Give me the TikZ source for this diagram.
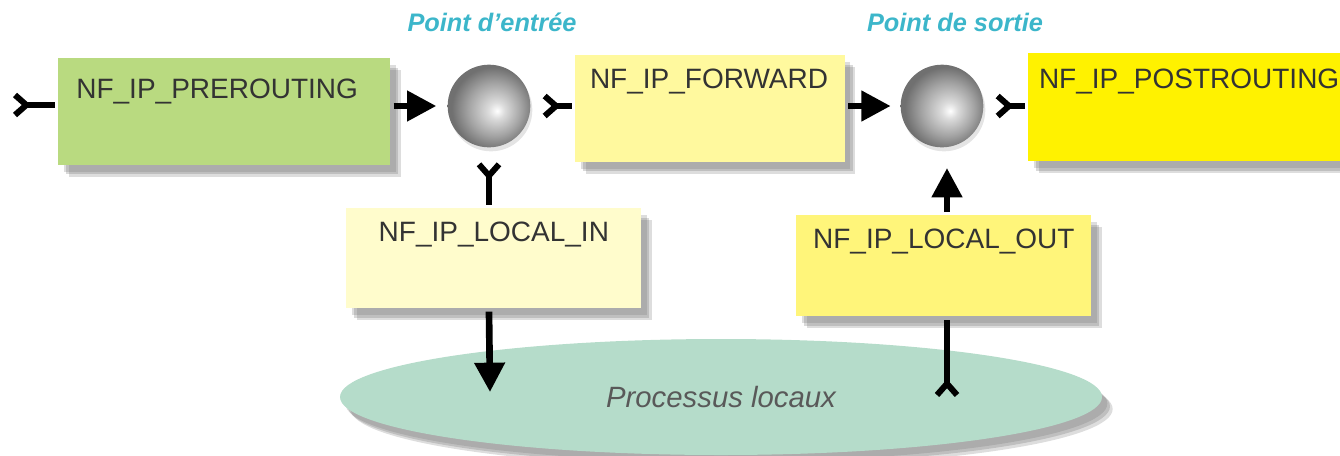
\documentclass[tikz,border=0pt]{standalone}
\usepackage{fontspec}
\setmainfont{Liberation Sans}
\usetikzlibrary{arrows.meta,shapes.geometric,shadows}
\definecolor{preroutingGreen}{RGB}{185,218,128}
\definecolor{forwardYellow}{RGB}{255,249,158}
\definecolor{postroutingYellow}{RGB}{255,242,0}
\definecolor{localinYellow}{RGB}{255,252,204}
\definecolor{localoutYellow}{RGB}{255,245,122}
\definecolor{processusGreen}{RGB}{181,220,202}
\definecolor{pointCyan}{RGB}{60,182,202}
\pgfdeclareradialshading{pointball}{\pgfqpoint{5bp}{-3bp}}{color(0bp)=(white); color(5bp)=(black!14); color(16bp)=(black!36); color(25bp)=(black!56); color(50bp)=(black!56)}

\begin{document}
\begin{tikzpicture}[x=0.75pt,y=-0.75pt,line width=5pt,
  >={Triangle[length=22pt,width=22pt]},
  barb/.style={{Straight Barb[reversed,length=8.5pt,width=15pt,line width=4.5pt]}-},
  soft shadow/.style={
    general shadow={shadow xshift=4pt,shadow yshift=-5pt,fill=black!60,opacity=.22},
    general shadow={shadow xshift=6pt,shadow yshift=-7pt,fill=black!60,opacity=.25},
    general shadow={shadow xshift=8pt,shadow yshift=-9pt,fill=black!60,opacity=.22}},
  hook node/.style={rectangle,inner ysep=0pt,anchor=north west,text=black!80,
    font=\fontsize{21}{25}\selectfont,soft shadow},
  point node/.style={circle,minimum size=62pt,inner sep=0pt,shade,shading=pointball,
    drop shadow={shadow xshift=1.5pt,shadow yshift=-3pt,fill=black!30,opacity=.35}},
  point label/.style={font=\fontsize{19}{22}\selectfont\bfseries\itshape,text=pointCyan}]

\useasboundingbox (0,0) rectangle (1340,455);
\clip (0,0) rectangle (1340,455);

% local processes
  \node[ellipse,fill=processusGreen,minimum width=571.5pt,minimum height=87pt,inner sep=0pt,
    text=black!65,font=\fontsize{22}{26}\selectfont\itshape,soft shadow]
    (processus) at (721,397) {Processus locaux};

% main line
  \node[hook node,fill=preroutingGreen,inner xsep=13.5pt,text width=222pt,
    text height=30pt,text depth=50pt,align=left] (prerouting) at (55,55) {NF\_IP\_PREROUTING};
  \node[hook node,fill=forwardYellow,inner xsep=11pt,text width=180pt,
    text height=25pt,text depth=55pt,align=left] (forward) at (572,52) {NF\_IP\_FORWARD};
  \node[hook node,fill=postroutingYellow,inner xsep=8pt,text width=300pt,
    text height=26pt,text depth=55pt,align=left] (postrouting) at (1025,50) {NF\_IP\_POSTROUTING};

  \node[point node] (entree) at (489,106) {};
  \node[point node] (sortie) at (942,106) {};
  \node[point label] (entreelabel) at (492,22) {Point d'entrée};
  \node[point label] (sortielabel) at (955,22) {Point de sortie};

% local hooks
  \node[hook node,fill=localinYellow,inner xsep=11.25pt,text width=198.75pt,
    text height=24.75pt,text depth=50.25pt,align=center] (localin) at (343,205) {NF\_IP\_LOCAL\_IN};
  \node[hook node,fill=localoutYellow,inner xsep=11.25pt,text width=198.75pt,
    text height=24.75pt,text depth=51pt,align=center] (localout) at (793,212) {NF\_IP\_LOCAL\_OUT};

  \coordinate (entry) at (12,105);
  \coordinate (deliver) at (490,392);
  \coordinate (emit) at (947,398);

  \path
    (entry) edge [barb] (entry -| prerouting.west)
    (prerouting.east |- entree) edge [->,shorten >=6pt] (entree.west)
    (entree.east) edge [barb,shorten <=6pt] (entree -| forward.west)
    (forward.east |- sortie) edge [->,shorten >=5pt] (sortie.west)
    (sortie.east) edge [barb,shorten <=6pt] (sortie -| postrouting.west);

  \path
    (entree.south) edge [barb,shorten <=8pt] (entree |- localin.north)
    (entree |- localin.south) edge [->] (deliver)
    (emit) edge [barb] (emit |- localout.south)
    (emit |- localout.north) edge [->,shorten >=13pt] (emit |- sortie.south);

\end{tikzpicture}
\end{document}
